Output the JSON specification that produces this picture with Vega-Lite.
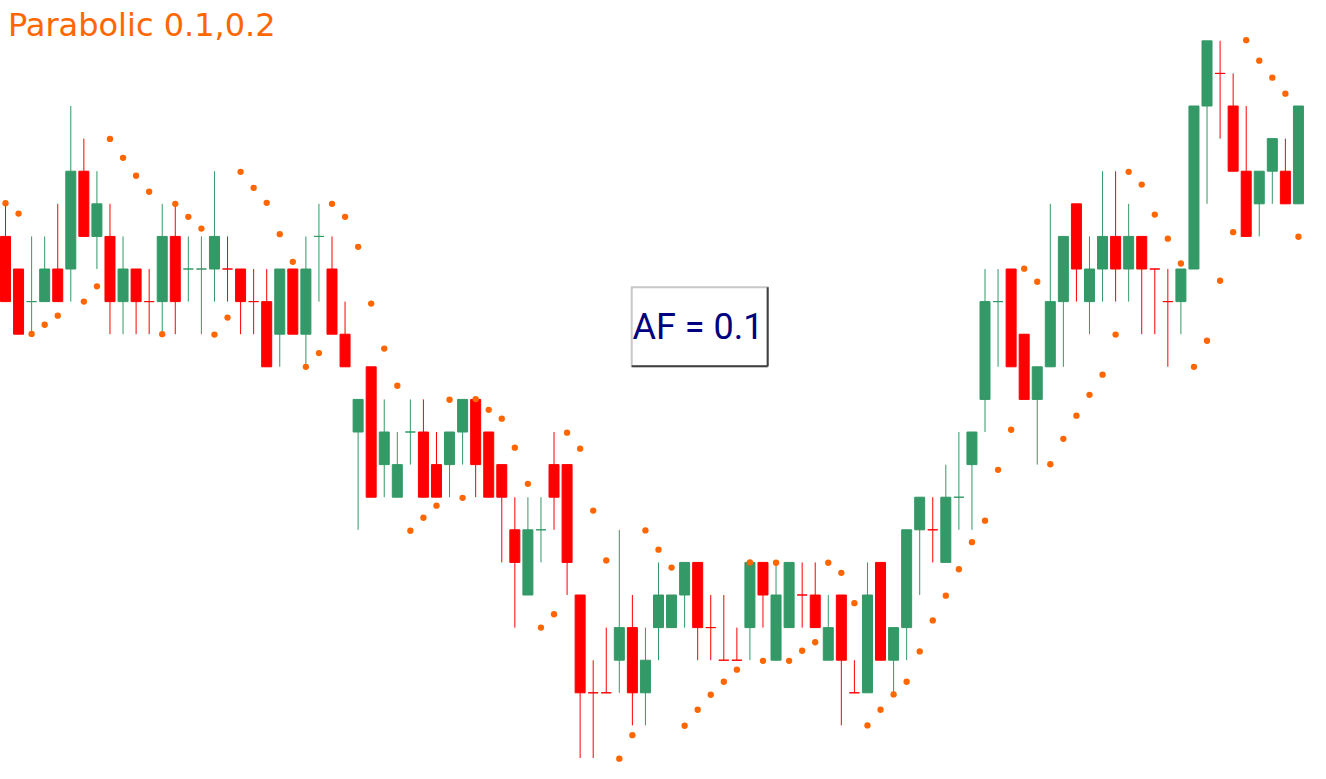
{
  "$schema": "https://vega.github.io/schema/vega-lite/v6.json",
  "width": 1326,
  "height": 779,
  "autosize": "none",
  "padding": 0,
  "background": "white",
  "config": {"view": {"stroke": null}},
  "datasets": {
    "candles": [
      {"i":0,"o":16,"h":17,"l":14,"c":14,"d":"r","s":17.02},
      {"i":1,"o":15,"h":15,"l":13,"c":13,"d":"r","s":16.70},
      {"i":2,"o":14,"h":16,"l":13,"c":14,"d":"g","s":13.01},
      {"i":3,"o":14,"h":16,"l":14,"c":15,"d":"g","s":13.29},
      {"i":4,"o":15,"h":17,"l":14,"c":14,"d":"r","s":13.57},
      {"i":5,"o":15,"h":20,"l":14,"c":18,"d":"g"},
      {"i":6,"o":18,"h":19,"l":16,"c":16,"d":"r","s":14.00},
      {"i":7,"o":16,"h":18,"l":15,"c":17,"d":"g","s":14.47},
      {"i":8,"o":16,"h":17,"l":13,"c":14,"d":"r","s":18.99},
      {"i":9,"o":14,"h":16,"l":13,"c":15,"d":"g","s":18.41},
      {"i":10,"o":15,"h":15,"l":13,"c":14,"d":"r","s":17.86},
      {"i":11,"o":14,"h":15,"l":13,"c":14,"d":"r","s":17.37},
      {"i":12,"o":14,"h":17,"l":13,"c":16,"d":"g","s":13.00},
      {"i":13,"o":16,"h":17,"l":13,"c":14,"d":"r","s":17.00},
      {"i":14,"o":15,"h":16,"l":14,"c":15,"d":"g","s":16.60},
      {"i":15,"o":15,"h":16,"l":13,"c":15,"d":"g","s":16.24},
      {"i":16,"o":15,"h":18,"l":14,"c":16,"d":"g","s":12.99},
      {"i":17,"o":15,"h":16,"l":14,"c":15,"d":"r","s":13.51},
      {"i":18,"o":15,"h":15,"l":13,"c":14,"d":"r","s":17.98},
      {"i":19,"o":14,"h":15,"l":13,"c":14,"d":"r","s":17.49},
      {"i":20,"o":14,"h":15,"l":12,"c":12,"d":"r","s":17.03},
      {"i":21,"o":13,"h":15,"l":12,"c":15,"d":"g","s":16.07},
      {"i":22,"o":15,"h":15,"l":13,"c":13,"d":"r","s":15.22},
      {"i":23,"o":13,"h":16,"l":12,"c":15,"d":"g","s":12.00},
      {"i":24,"o":16,"h":17,"l":14,"c":16,"d":"g","s":12.42},
      {"i":25,"o":15,"h":16,"l":13,"c":13,"d":"r","s":17.00},
      {"i":26,"o":13,"h":14,"l":12,"c":12,"d":"r","s":16.60},
      {"i":27,"o":10,"h":11,"l":7,"c":11,"d":"g","s":15.68},
      {"i":28,"o":12,"h":12,"l":8,"c":8,"d":"r","s":13.94},
      {"i":29,"o":9,"h":11,"l":8,"c":10,"d":"g","s":12.56},
      {"i":30,"o":8,"h":10,"l":8,"c":9,"d":"g","s":11.42},
      {"i":31,"o":10,"h":11,"l":9,"c":10,"d":"g","s":6.97},
      {"i":32,"o":10,"h":11,"l":8,"c":8,"d":"r","s":7.37},
      {"i":33,"o":9,"h":10,"l":8,"c":8,"d":"r","s":7.74},
      {"i":34,"o":9,"h":10,"l":8,"c":10,"d":"g","s":10.99},
      {"i":35,"o":10,"h":11,"l":9,"c":11,"d":"g","s":7.98},
      {"i":36,"o":11,"h":11,"l":8,"c":9,"d":"r","s":11.01},
      {"i":37,"o":10,"h":10,"l":8,"c":8,"d":"r","s":10.68},
      {"i":38,"o":9,"h":9,"l":6,"c":8,"d":"r","s":10.41},
      {"i":39,"o":7,"h":8,"l":4,"c":6,"d":"r","s":9.52},
      {"i":40,"o":5,"h":8,"l":5,"c":7,"d":"g","s":8.41},
      {"i":41,"o":7,"h":8,"l":6,"c":7,"d":"g","s":4.00},
      {"i":42,"o":9,"h":10,"l":7,"c":8,"d":"r","s":4.41},
      {"i":43,"o":9,"h":9,"l":5,"c":6,"d":"r","s":9.98},
      {"i":44,"o":5,"h":5,"l":0,"c":2,"d":"r","s":9.49},
      {"i":45,"o":2,"h":3,"l":0,"c":2,"d":"r","s":7.59},
      {"i":46,"o":2,"h":4,"l":2,"c":2,"d":"r","s":6.06},
      {"i":47,"o":3,"h":7,"l":2,"c":4,"d":"g","s":-0.02},
      {"i":48,"o":4,"h":5,"l":1,"c":2,"d":"r","s":0.70},
      {"i":49,"o":2,"h":4,"l":1,"c":3,"d":"g","s":6.98},
      {"i":50,"o":4,"h":6,"l":3,"c":5,"d":"g","s":6.39},
      {"i":51,"o":4,"h":5,"l":4,"c":5,"d":"g","s":5.84},
      {"i":52,"o":5,"h":6,"l":4,"c":6,"d":"g","s":0.99},
      {"i":53,"o":6,"h":6,"l":3,"c":4,"d":"r","s":1.48},
      {"i":54,"o":4,"h":5,"l":3,"c":4,"d":"r","s":1.94},
      {"i":55,"o":3,"h":5,"l":3,"c":3,"d":"r","s":2.34},
      {"i":56,"o":3,"h":4,"l":3,"c":3,"d":"r","s":2.71},
      {"i":57,"o":4,"h":6,"l":3,"c":6,"d":"g","s":6.00},
      {"i":58,"o":6,"h":6,"l":4,"c":5,"d":"r","s":2.98},
      {"i":59,"o":3,"h":6,"l":3,"c":5,"d":"g","s":5.99},
      {"i":60,"o":4,"h":6,"l":4,"c":6,"d":"g","s":2.98},
      {"i":61,"o":5,"h":6,"l":4,"c":5,"d":"r","s":3.29},
      {"i":62,"o":5,"h":6,"l":4,"c":4,"d":"r","s":3.55},
      {"i":63,"o":3,"h":5,"l":3,"c":4,"d":"g","s":5.99},
      {"i":64,"o":5,"h":5,"l":1,"c":3,"d":"r","s":5.68},
      {"i":65,"o":2,"h":3,"l":2,"c":2,"d":"r","s":4.75},
      {"i":66,"o":2,"h":6,"l":2,"c":5,"d":"g","s":1.00},
      {"i":67,"o":6,"h":6,"l":3,"c":3,"d":"r","s":1.48},
      {"i":68,"o":3,"h":4,"l":2,"c":4,"d":"g","s":1.95},
      {"i":69,"o":4,"h":7,"l":3,"c":7,"d":"g","s":2.34},
      {"i":70,"o":7,"h":8,"l":5,"c":8,"d":"g","s":3.27},
      {"i":71,"o":7,"h":8,"l":6,"c":7,"d":"r","s":4.22},
      {"i":72,"o":6,"h":9,"l":6,"c":8,"d":"g","s":4.98},
      {"i":73,"o":8,"h":10,"l":7,"c":8,"d":"g","s":5.79},
      {"i":74,"o":9,"h":10,"l":7,"c":10,"d":"g","s":6.62},
      {"i":75,"o":11,"h":15,"l":10,"c":14,"d":"g","s":7.28},
      {"i":76,"o":14,"h":15,"l":12,"c":14,"d":"g","s":8.84},
      {"i":77,"o":15,"h":15,"l":12,"c":12,"d":"r","s":10.07},
      {"i":78,"o":13,"h":13,"l":11,"c":11,"d":"r","s":15.01},
      {"i":79,"o":11,"h":12,"l":9,"c":12,"d":"g","s":14.61},
      {"i":80,"o":12,"h":17,"l":12,"c":14,"d":"g","s":9.01},
      {"i":81,"o":14,"h":16,"l":12,"c":16,"d":"g","s":9.79},
      {"i":82,"o":17,"h":17,"l":14,"c":15,"d":"r","s":10.50},
      {"i":83,"o":14,"h":16,"l":13,"c":15,"d":"g","s":11.14},
      {"i":84,"o":15,"h":18,"l":14,"c":16,"d":"g","s":11.76},
      {"i":85,"o":16,"h":18,"l":14,"c":15,"d":"r","s":12.99},
      {"i":86,"o":15,"h":17,"l":14,"c":16,"d":"g","s":17.98},
      {"i":87,"o":16,"h":16,"l":13,"c":15,"d":"r","s":17.59},
      {"i":88,"o":15,"h":15,"l":13,"c":15,"d":"r","s":16.67},
      {"i":89,"o":14,"h":15,"l":12,"c":14,"d":"r","s":15.93},
      {"i":90,"o":14,"h":15,"l":13,"c":15,"d":"g","s":15.17},
      {"i":91,"o":15,"h":20,"l":15,"c":20,"d":"g","s":12.00},
      {"i":92,"o":20,"h":22,"l":17,"c":22,"d":"g","s":12.80},
      {"i":93,"o":21,"h":22,"l":19,"c":21,"d":"r","s":14.64},
      {"i":94,"o":20,"h":21,"l":18,"c":18,"d":"r","s":16.13},
      {"i":95,"o":18,"h":20,"l":16,"c":16,"d":"r","s":22.02},
      {"i":96,"o":17,"h":18,"l":16,"c":18,"d":"g","s":21.39},
      {"i":97,"o":18,"h":19,"l":17,"c":19,"d":"g","s":20.87},
      {"i":98,"o":18,"h":19,"l":17,"c":17,"d":"r","s":20.38},
      {"i":99,"o":17,"h":20,"l":17,"c":20,"d":"g","s":15.99}
    ],
    "box": [
      {"x1":47.95,"x2":58.36,"y1":12.02,"y2":14.44,"tx":53.02,"ty":12.85,"label":"AF = 0.1"}
    ],
    "title": [
      {"tx":0.19,"ty":22.15,"label":"Parabolic 0.1,0.2"}
    ]
  },
  "layer": [
    {
      "data": {"name": "candles"},
      "mark": {"type": "rule", "strokeWidth": 1},
      "encoding": {
        "x": {"field": "i", "type": "quantitative", "scale": {"domain": [-0.421, 101.11], "nice": false, "zero": false, "padding": 0}, "axis": null},
        "y": {"field": "l", "type": "quantitative", "scale": {"domain": [-0.644, 23.252], "nice": false, "zero": false, "padding": 0}, "axis": null},
        "y2": {"field": "h"},
        "color": {"field": "d", "type": "nominal", "scale": {"domain": ["g", "r"], "range": ["#339966", "#FF0000"]}, "legend": null}
      }
    },
    {
      "data": {"name": "candles"},
      "mark": {"type": "bar", "size": 10, "strokeWidth": 1},
      "encoding": {
        "x": {"field": "i", "type": "quantitative"},
        "y": {"field": "o", "type": "quantitative"},
        "y2": {"field": "c"},
        "color": {"field": "d", "type": "nominal", "legend": null},
        "stroke": {"field": "d", "type": "nominal", "scale": {"domain": ["g", "r"], "range": ["#339966", "#FF0000"]}, "legend": null}
      }
    },
    {
      "data": {"name": "candles"},
      "mark": {"type": "point", "filled": true, "shape": "circle", "size": 40, "color": "#FF6600", "opacity": 1},
      "encoding": {
        "x": {"field": "i", "type": "quantitative"},
        "y": {"field": "s", "type": "quantitative"}
      }
    },
    {
      "data": {"name": "box"},
      "mark": {"type": "rect", "fill": "white", "stroke": "#c8c8c8", "strokeWidth": 2},
      "encoding": {
        "x": {"field": "x1", "type": "quantitative"},
        "x2": {"field": "x2"},
        "y": {"field": "y1", "type": "quantitative"},
        "y2": {"field": "y2"}
      }
    },
    {
      "data": {"name": "box"},
      "mark": {"type": "rule", "stroke": "#404040", "strokeWidth": 2},
      "encoding": {
        "x": {"field": "x1", "type": "quantitative"},
        "x2": {"field": "x2"},
        "y": {"field": "y1", "type": "quantitative"}
      }
    },
    {
      "data": {"name": "box"},
      "mark": {"type": "rule", "stroke": "#404040", "strokeWidth": 2},
      "encoding": {
        "x": {"field": "x2", "type": "quantitative"},
        "y": {"field": "y1", "type": "quantitative"},
        "y2": {"field": "y2"}
      }
    },
    {
      "data": {"name": "box"},
      "mark": {"type": "text", "font": "Roboto", "fontSize": 36, "color": "#000080", "align": "center", "baseline": "alphabetic"},
      "encoding": {
        "x": {"field": "tx", "type": "quantitative"},
        "y": {"field": "ty", "type": "quantitative"},
        "text": {"field": "label"}
      }
    },
    {
      "data": {"name": "title"},
      "mark": {"type": "text", "font": "DejaVu Sans", "fontSize": 32, "color": "#FF6600", "align": "left", "baseline": "alphabetic"},
      "encoding": {
        "x": {"field": "tx", "type": "quantitative"},
        "y": {"field": "ty", "type": "quantitative"},
        "text": {"field": "label"}
      }
    }
  ]
}
